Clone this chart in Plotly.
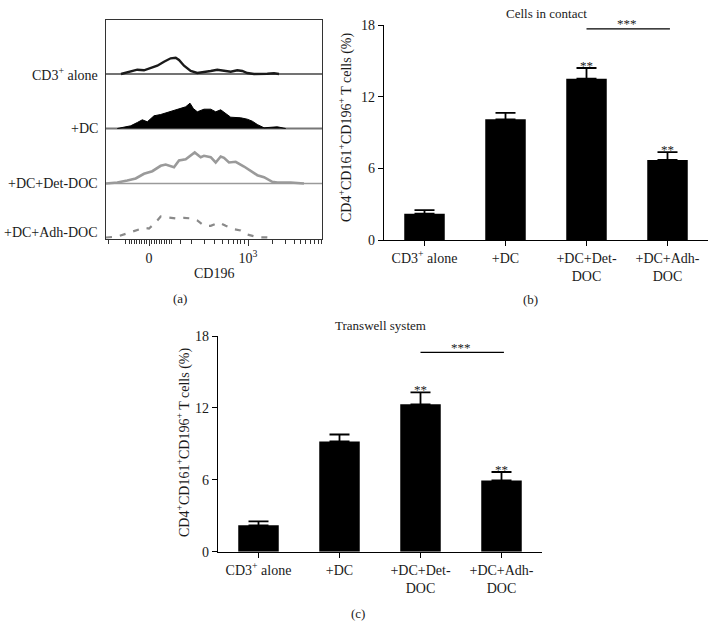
import plotly.graph_objects as go

# ---------------- Panel (a): CD196 flow histograms ----------------
# x = CD196 display channel position, h = relative count height
cd3_x = [15, 18, 24.7, 31.3, 38, 44.7, 51.3, 58, 64.7, 69.7, 73, 78, 84.7, 91.3, 98, 104.7,
         111.3, 118, 124.7, 131.3, 136.3, 141.3, 148, 161.3, 168, 173]
cd3_h = [0, 0.7, 2.3, 4.3, 3.7, 5.7, 8.3, 12.3, 15.7, 16.3, 14, 8.3, 3, 1, 1.7, 3,
         4.3, 3, 2.3, 3.7, 3, 1, 0, 0.3, 0.7, 0]

dc_x = [11.3, 18, 24.7, 31.3, 36.3, 41.3, 48, 54.7, 61.3, 68, 74.7, 79.7, 84, 87.3, 91.3,
        98, 104.7, 109.7, 114.7, 119.7, 124.7, 134.7, 141.3, 146.3, 151.3, 158, 164.7,
        171.3, 179.7]
dc_h = [0, 1.7, 2.7, 6, 8.7, 6.7, 12.7, 14, 16, 18.7, 20, 21.7, 25.3, 20, 16.7,
        19.3, 19.3, 16.7, 18.7, 14.7, 11.3, 10.7, 9.3, 7.3, 4, 0.7, 1,
        1.7, 0]

det_x = [0, 11.3, 21.3, 29.7, 38, 46.3, 54.7, 59.7, 68, 73, 79.7, 84.7, 88.7, 94.7, 98,
         104.7, 109.7, 114.7, 118, 123, 129.7, 138, 144.7, 151.3, 158, 166.3, 171.3,
         184.7, 198]
det_h = [0, 1, 3, 5, 9.7, 12.3, 17.7, 19, 16.3, 23, 24.3, 27.7, 31, 26.3, 27.7,
         26.3, 21, 27, 25.7, 21, 21.7, 17, 12.3, 8.3, 6.3, 1.7, 1,
         1, 0]

adh_x = [0, 11.3, 19.7, 28, 38, 43, 49.7, 54.7, 59.7, 69.7, 78, 86.3, 91.3, 98, 104.7,
         113, 119.7, 128, 134.7, 141.3, 151.3, 164.7]
adh_h = [0, 1, 3.7, 6.3, 9.7, 9, 15, 21, 20.3, 19, 19.7, 19, 17, 11.7, 11.7,
         15, 11.7, 8.3, 7, 3, 0.3, 0]

track_labels = ["CD3<sup>+</sup> alone", "+DC", "+DC+Det-DOC", "+DC+Adh-DOC"]
cd196_tick_vals = [43, 142]
cd196_tick_text = ["0", "10<sup>3</sup>"]
cd196_minor_ticks = [2, 19.7, 23, 25.5, 28, 30.5, 33, 35.5, 38, 40.5, 45.5, 48, 50.5, 53,
                     55.5, 58, 60.5, 63, 65.5, 74.7, 85.3, 98, 108, 116.3, 122, 127.3,
                     131.3, 134.7, 138, 166.3, 179.7, 188, 194.7, 199.7, 204.7, 208.7,
                     212, 215.3]

# ---------------- Panels (b) and (c): bar charts ----------------
groups = ["CD3<sup>+</sup> alone", "+DC", "+DC+Det-<br>DOC", "+DC+Adh-<br>DOC"]
contact_mean = [2.2, 10.1, 13.5, 6.7]
contact_sem = [0.3, 0.55, 0.9, 0.65]
transwell_mean = [2.2, 9.2, 12.3, 5.95]
transwell_sem = [0.33, 0.58, 1.0, 0.7]
y_ticks = [0, 6, 12, 18]
y_title = "CD4<sup>+</sup>CD161<sup>+</sup>CD196<sup>+</sup> T cells (%)"

FONT = "Liberation Serif"
TXT = "#1a1a1a"
W, H = 716, 626

def px(xp):
    return xp / W

def py(yp):
    return 1 - yp / H

fig = go.Figure()

# track baselines (from bottom of the panel, in count units)
offsets = [165, 110.5, 55.5, 1.5]

fig.add_trace(go.Scatter(x=cd3_x, y=[offsets[0] + v for v in cd3_h], mode="lines",
                         line=dict(color="#1a1a1a", width=2.4), xaxis="x", yaxis="y",
                         showlegend=False, hoverinfo="skip"))
fig.add_trace(go.Scatter(x=dc_x, y=[offsets[1] + v for v in dc_h], mode="lines",
                         fill="toself", fillcolor="black",
                         line=dict(color="black", width=1), xaxis="x", yaxis="y",
                         showlegend=False, hoverinfo="skip"))
fig.add_trace(go.Scatter(x=det_x, y=[offsets[2] + v for v in det_h], mode="lines",
                         line=dict(color="#9a9a9a", width=2.6), xaxis="x", yaxis="y",
                         showlegend=False, hoverinfo="skip"))
fig.add_trace(go.Scatter(x=adh_x, y=[offsets[3] + v for v in adh_h], mode="lines",
                         line=dict(color="#8a8a8a", width=2.2, dash="6px,8px"),
                         xaxis="x", yaxis="y", showlegend=False, hoverinfo="skip"))

shapes = []
base_styles = [("#444444", 1.3), ("#777777", 1.8), ("#9a9a9a", 1.3)]
for off, (col, wd) in zip(offsets[:3], base_styles):
    shapes.append(dict(type="line", xref="x", yref="y", x0=0, x1=216, y0=off, y1=off,
                       line=dict(color=col, width=wd), layer="below"))

# bars
fig.add_trace(go.Bar(x=groups, y=contact_mean, width=0.5, marker=dict(color="black", line=dict(width=0)),
                     error_y=dict(type="data", symmetric=False, array=contact_sem,
                                  arrayminus=[0] * 4, color="black", thickness=1.8, width=10),
                     xaxis="x2", yaxis="y2", showlegend=False, hoverinfo="skip"))
fig.add_trace(go.Bar(x=groups, y=transwell_mean, width=0.5, marker=dict(color="black", line=dict(width=0)),
                     error_y=dict(type="data", symmetric=False, array=transwell_sem,
                                  arrayminus=[0] * 4, color="black", thickness=1.8, width=10),
                     xaxis="x3", yaxis="y3", showlegend=False, hoverinfo="skip"))

tickfont = dict(family=FONT, size=14, color=TXT)

bar_x = dict(showline=True, linecolor="black", linewidth=1.3, ticks="outside", ticklen=5,
             tickwidth=1.3, tickcolor="black", showgrid=False, zeroline=False,
             tickfont=tickfont, type="category", range=[-0.5, 3.5], fixedrange=True)
bar_y = dict(showline=True, linecolor="black", linewidth=1.3, ticks="outside", ticklen=5,
             tickwidth=1.3, tickcolor="black", showgrid=False, zeroline=False,
             tickfont=tickfont, range=[0, 18], tickmode="array", tickvals=y_ticks,
             ticktext=[str(v) for v in y_ticks])

fig.update_layout(
    width=W, height=H, margin=dict(l=0, r=0, t=0, b=0, pad=0, autoexpand=False),
    autosize=False,
    paper_bgcolor="white", plot_bgcolor="white",
    font=dict(family=FONT, color=TXT, size=14),
    xaxis=dict(domain=[px(106), px(322)], range=[0, 216], showline=True, mirror=True,
               linecolor="#333333", linewidth=1.3, showgrid=False, zeroline=False,
               ticks="outside", ticklen=6, tickwidth=1.2, tickcolor="#333333",
               tickmode="array", tickvals=cd196_tick_vals, ticktext=cd196_tick_text,
               tickfont=tickfont,
               minor=dict(tickmode="array", tickvals=cd196_minor_ticks, ticks="outside",
                          ticklen=4, tickwidth=1, tickcolor="#333333"),
               anchor="y"),
    yaxis=dict(domain=[py(239), py(20)], range=[0, 219], showline=True, mirror=True,
               linecolor="#333333", linewidth=1.3, showgrid=False, zeroline=False,
               showticklabels=False, ticks="", anchor="x"),
    xaxis2=dict(domain=[px(384), px(708)], anchor="y2", **bar_x),
    yaxis2=dict(domain=[py(240), py(25)], anchor="x2", **bar_y),
    xaxis3=dict(domain=[px(218), px(542)], anchor="y3", **bar_x),
    yaxis3=dict(domain=[py(551.7), py(336)], anchor="x3", **bar_y),
    bargap=0.5,
)

ann = []
# track labels for (a)
for lab, off, dy in zip(track_labels, offsets, [0, 0, 0, 5]):
    ann.append(dict(text=lab, xref="paper", yref="y", x=px(100), y=off + dy,
                    xanchor="right", yanchor="middle", showarrow=False,
                    font=dict(family=FONT, size=14, color=TXT)))
ann.append(dict(text="CD196", xref="paper", yref="paper", x=px(214), y=py(273),
                xanchor="center", yanchor="middle", showarrow=False,
                font=dict(family=FONT, size=14, color=TXT)))

# panel tags
for tag, xx, yy in [("(a)", 180, 298), ("(b)", 530, 299), ("(c)", 358, 613)]:
    ann.append(dict(text=tag, xref="paper", yref="paper", x=px(xx), y=py(yy),
                    xanchor="center", yanchor="middle", showarrow=False,
                    font=dict(family=FONT, size=13, color=TXT)))

# titles
ann.append(dict(text="Cells in contact", xref="paper", yref="paper", x=px(546), y=py(14),
                xanchor="center", yanchor="middle", showarrow=False,
                font=dict(family=FONT, size=13, color=TXT)))
ann.append(dict(text="Transwell system", xref="paper", yref="paper", x=px(381), y=py(325),
                xanchor="center", yanchor="middle", showarrow=False,
                font=dict(family=FONT, size=13, color=TXT)))

# y-axis titles
ann.append(dict(text=y_title, xref="paper", yref="paper", x=px(345), y=py(128),
                xanchor="center", yanchor="middle", textangle=-90, showarrow=False,
                font=dict(family=FONT, size=14, color=TXT)))
ann.append(dict(text=y_title, xref="paper", yref="paper", x=px(183), y=py(443),
                xanchor="center", yanchor="middle", textangle=-90, showarrow=False,
                font=dict(family=FONT, size=14, color=TXT)))

# significance marks
for xa, ya, means, sems, bracket_y in [("x2", "y2", contact_mean, contact_sem, 17.67),
                                       ("x3", "y3", transwell_mean, transwell_sem, 16.64)]:
    for i in (2, 3):
        ann.append(dict(text="**", xref=xa, yref=ya, x=i, y=means[i] + sems[i],
                        xanchor="center", yanchor="middle", yshift=3, showarrow=False,
                        font=dict(family=FONT, size=13, color=TXT)))
    ann.append(dict(text="***", xref=xa, yref=ya, x=2.5, y=bracket_y,
                    xanchor="center", yanchor="middle", yshift=5, showarrow=False,
                    font=dict(family=FONT, size=13, color=TXT)))
    shapes.append(dict(type="line", xref=xa, yref=ya, x0=2, x1=3.03, y0=bracket_y, y1=bracket_y,
                       line=dict(color="black", width=1.3)))

fig.update_layout(annotations=ann, shapes=shapes)

fig.write_html("out.html", config={"responsive": False, "displayModeBar": False},
               post_script="document.body.style.margin='0px';document.body.style.overflow='hidden';")
